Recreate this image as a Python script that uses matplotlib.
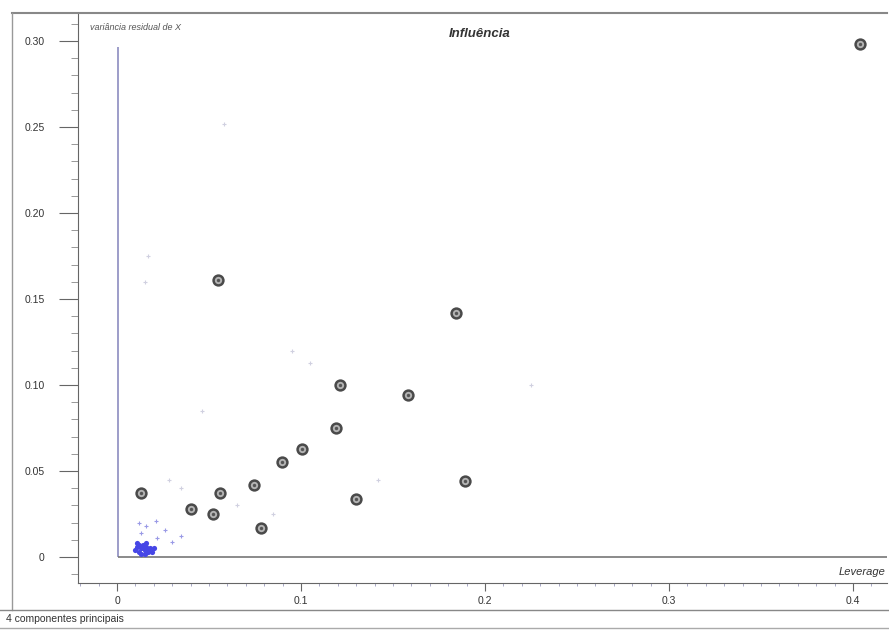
import numpy as np
import matplotlib.pyplot as plt
from matplotlib.ticker import MultipleLocator

plt.rcParams['font.family'] = ['Liberation Sans', 'DejaVu Sans']

# amostras (leverage, variancia residual)
lev = [0.404, 0.055, 0.184, 0.121, 0.158, 0.119, 0.1005, 0.0897,
       0.0745, 0.056, 0.013, 0.040, 0.052, 0.078, 0.130, 0.189]
res = [0.298, 0.161, 0.142, 0.100, 0.094, 0.075, 0.063, 0.055,
       0.042, 0.037, 0.037, 0.028, 0.025, 0.017, 0.034, 0.044]

# nuvem azul perto da origem
blue_x = [0.010, 0.011, 0.012, 0.013, 0.014, 0.015, 0.016, 0.017, 0.018,
          0.011, 0.013, 0.015, 0.017, 0.012, 0.014, 0.016, 0.019, 0.020]
blue_y = [0.004, 0.006, 0.003, 0.005, 0.007, 0.004, 0.006, 0.003, 0.005,
          0.008, 0.002, 0.002, 0.004, 0.007, 0.005, 0.008, 0.003, 0.005]

# marcas azuis fracas
lblue_x = [0.012, 0.016, 0.021, 0.026, 0.013, 0.022, 0.030, 0.035]
lblue_y = [0.020, 0.018, 0.021, 0.016, 0.014, 0.011, 0.009, 0.012]

# marcas fracas
faint_x = [0.015, 0.017, 0.046, 0.058, 0.095, 0.105, 0.028, 0.035, 0.065, 0.085, 0.142, 0.225]
faint_y = [0.160, 0.175, 0.085, 0.252, 0.120, 0.113, 0.045, 0.040, 0.030, 0.025, 0.045, 0.100]

yticks = [0, 0.05, 0.10, 0.15, 0.20, 0.25, 0.30]
ylabels = ['0', '0.05', '0.10', '0.15', '0.20', '0.25', '0.30']
xticks = [0, 0.1, 0.2, 0.3, 0.4]
xlabels = ['0', '0.1', '0.2', '0.3', '0.4']

W, H = 889, 630
fig = plt.figure(figsize=(W / 100, H / 100), dpi=100)

def px(x0, y0, x1, y1):
    return [x0 / W, 1 - y1 / H, (x1 - x0) / W, (y1 - y0) / H]

ax = fig.add_axes(px(78, 13, 887, 583))
ax.set_xlim(-0.0212, 0.4185)
ax.set_ylim(-0.0151, 0.3163)

for s in ['top', 'right']:
    ax.spines[s].set_visible(False)
ax.spines['left'].set_color('#666666')
ax.spines['bottom'].set_color('#666666')

ax.set_yticks(yticks)
ax.set_yticklabels(ylabels, color='#333333')
ax.set_xticks(xticks)
ax.set_xticklabels(xlabels, color='#333333')
ax.yaxis.set_minor_locator(MultipleLocator(0.01))
ax.xaxis.set_minor_locator(MultipleLocator(0.01))
ax.tick_params(axis='y', which='major', length=14, color='#666666', labelsize=7.5, pad=10)
ax.tick_params(axis='y', which='minor', length=5, color='#888888')
ax.tick_params(axis='x', which='major', length=6, color='#666666', labelsize=7.5, pad=3)
ax.tick_params(axis='x', which='minor', length=2, color='#9999bb')

# eixos internos
ax.plot([0.0005, 0.0005], [0, 0.2965], color='#8c8cc0', lw=1.2, solid_capstyle='butt')
ax.plot([0.0005, 0.4185], [0, 0], color='#777777', lw=1.2, solid_capstyle='butt')

ax.scatter(faint_x, faint_y, marker='+', s=12, color='#d0d0e0', lw=0.8, zorder=2)
ax.scatter(lblue_x, lblue_y, marker='+', s=12, color='#9a9ae6', lw=0.8, zorder=2)
ax.scatter(blue_x, blue_y, marker='o', s=14, color='#4646e6', lw=0, zorder=3)
ax.scatter(lev, res, marker='o', s=50, facecolor='#b4b4b4', edgecolor='#4a4a4a',
           lw=1.8, zorder=4)
ax.scatter(lev, res, marker='o', s=6, color='#555555', lw=0, zorder=5)

ax.text(0.197, 0.304, 'Influência', fontsize=9.5, fontstyle='italic', fontweight='bold',
        ha='center', va='center', color='#333333')
ax.text(0.4175, -0.0085, 'Leverage', fontsize=8, fontstyle='italic',
        ha='right', va='center', color='#333333')
fig.text(90 / W, 1 - 27 / H, 'variância residual de X', fontsize=6.5, fontstyle='italic',
         ha='left', va='center', color='#555555')

# moldura
fig.add_artist(plt.Line2D([12 / W, 887 / W], [1 - 13 / H, 1 - 13 / H], color='#888888', lw=1.5))
fig.add_artist(plt.Line2D([12 / W, 12 / W], [1 - 13 / H, 1 - 610 / H], color='#999999', lw=1))
fig.add_artist(plt.Line2D([0, 1], [1 - 610 / H, 1 - 610 / H], color='#888888', lw=1))
fig.add_artist(plt.Line2D([0, 1], [1 - 628 / H, 1 - 628 / H], color='#aaaaaa', lw=1))
fig.text(6 / W, 1 - 619 / H, '4 componentes principais', fontsize=7.5, ha='left',
         va='center', color='#333333')

fig.savefig('out.png', dpi=100)
